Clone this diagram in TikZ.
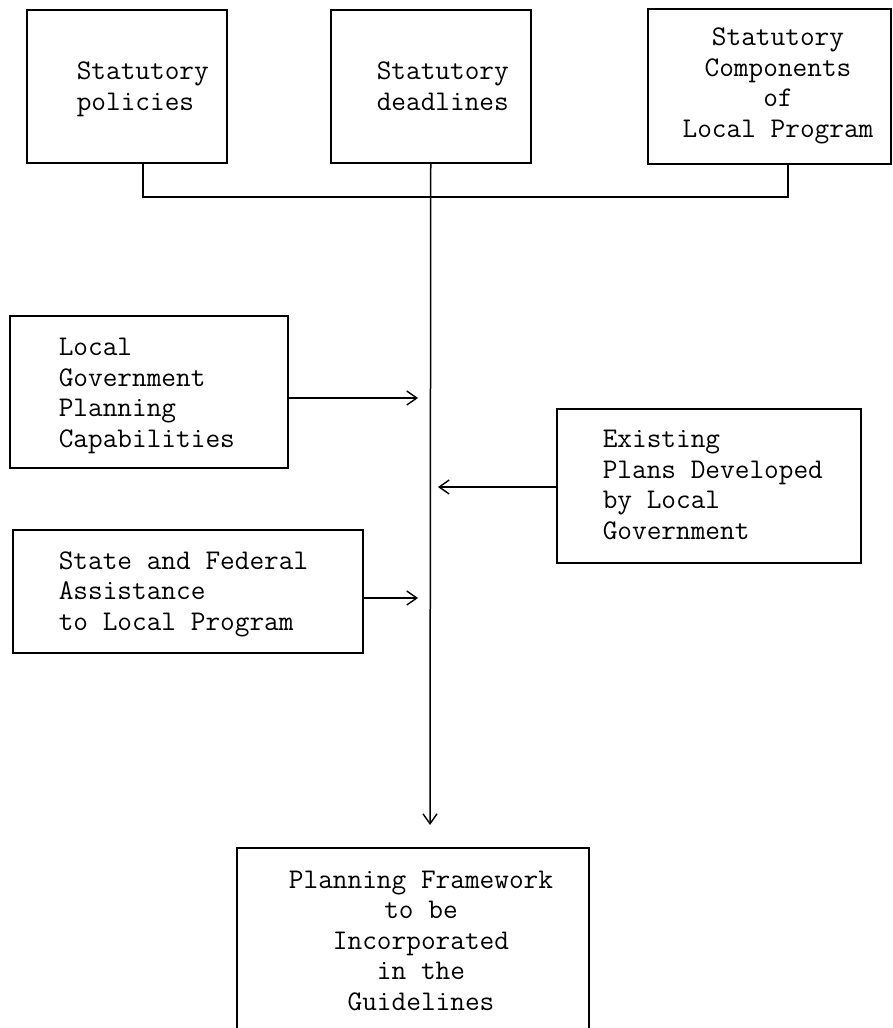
\documentclass[tikz,border=0pt]{standalone}
\usepackage{fontspec}
\usetikzlibrary{arrows.meta}
\begin{document}
\begin{tikzpicture}[x=1pt,y=-1pt,
  line width=1.5pt,
  box/.style={draw, inner sep=0pt, anchor=north west},
  txt/.style={font=\ttfamily\fontsize{28.5}{30.5}\selectfont, inner sep=0pt, anchor=base west, align=left},
  ctxt/.style={font=\ttfamily\fontsize{28.5}{30.5}\selectfont, inner sep=0pt, anchor=base, align=center},
  arr/.style={-{Straight Barb[length=10pt,width=14pt,line width=1.4pt]}}
]
\clip (0,0) rectangle (893,1028);
% boxes
\node[box, minimum width=200pt, minimum height=153pt] (b1) at (26,9) {};
\node[box, minimum width=200pt, minimum height=153pt] (b2) at (330,9) {};
\node[box, minimum width=243pt, minimum height=155pt] (b3) at (647,8) {};
\node[box, minimum width=278pt, minimum height=152pt] (b4) at (9,315) {};
\node[box, minimum width=350pt, minimum height=123pt] (b5) at (12,529) {};
\node[box, minimum width=304pt, minimum height=154pt] (b6) at (556,408) {};
\node[box, minimum width=352pt, minimum height=220pt] (b7) at (236,847) {};
% texts (anchor = baseline of the last line)
\node[txt] (t1) at (76,110) {Statutory\\policies};
\node[txt] (t2) at (376,110) {Statutory\\deadlines};
\node[ctxt] (t3) at (778,137) {Statutory\\Components\\of\\Local Program};
\node[txt] (t4) at (58,447) {Local\\Government\\Planning\\Capabilities};
\node[txt] (t5) at (58,630) {State and Federal\\Assistance\\to Local Program};
\node[txt] (t6) at (602,539) {Existing\\Plans Developed\\by Local\\Government};
\node[ctxt] (t7) at (421,1010) {Planning Framework\\to be\\Incorporated\\in the\\Guidelines};
% connectors
\coordinate (j1) at (143,197);
\coordinate (j3) at (788,197);
\draw (j1 |- b1.south) -- (j1) -- (j3) -- (j3 |- b3.south);
\coordinate (m4) at (430,825);
\draw[arr] (b2.south) -- (m4);
\coordinate (m1) at (418,398);
\coordinate (m2) at (418,598);
\coordinate (m3) at (438,487);
\draw[arr] (b4.east |- m1) -- (m1);
\draw[arr] (b5.east |- m2) -- (m2);
\draw[arr] (b6.west |- m3) -- (m3);
\end{tikzpicture}
\end{document}
